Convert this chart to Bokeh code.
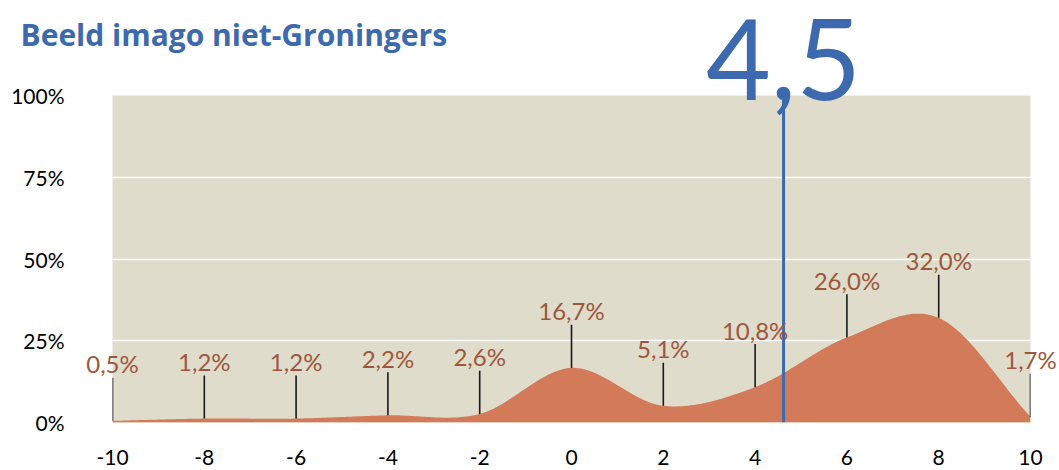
import numpy as np
from bokeh.plotting import figure
from bokeh.models import ColumnDataSource, FixedTicker
from bokeh.core.properties import value
from bokeh.embed import file_html
from bokeh.resources import INLINE

# ---- data ----
title_text = "Beeld imago niet-Groningers"
scores = [-10, -8, -6, -4, -2, 0, 2, 4, 6, 8, 10]
shares = [0.5, 1.2, 1.2, 2.2, 2.6, 16.7, 5.1, 10.8, 26.0, 32.0, 1.7]
share_labels = ["0,5%", "1,2%", "1,2%", "2,2%", "2,6%", "16,7%", "5,1%", "10,8%", "26,0%", "32,0%", "1,7%"]
x_ticks = [-10, -8, -6, -4, -2, 0, 2, 4, 6, 8, 10]
x_tick_labels = ["-10", "-8", "-6", "-4", "-2", "0", "2", "4", "6", "8", "10"]
y_ticks = [0, 25, 50, 75, 100]
y_tick_labels = ["0%", "25%", "50%", "75%", "100%"]
avg_label = "4,5"
avg_x = 4.62

# ---- styles ----
BG = "#DFDCCB"
FILL = "#D37B59"
LABEL_C = "#9C573D"
BLUE = "#3D69AE"
FONT = "Lato"
STEM = 13.2  # stem length in % units


def smooth(xs, ys, n=40):
    """Cubic Hermite (Catmull-Rom) curve through the given points, for drawing."""
    xs = np.asarray(xs, float)
    ys = np.asarray(ys, float)
    m = np.zeros_like(ys)
    m[1:-1] = (ys[2:] - ys[:-2]) / (xs[2:] - xs[:-2])
    m[0] = (ys[1] - ys[0]) / (xs[1] - xs[0])
    m[-1] = (ys[-1] - ys[-2]) / (xs[-1] - xs[-2])
    ox, oy = [], []
    for i in range(len(xs) - 1):
        h = xs[i + 1] - xs[i]
        t = np.linspace(0, 1, n, endpoint=(i == len(xs) - 2))
        h00 = 2 * t**3 - 3 * t**2 + 1
        h10 = t**3 - 2 * t**2 + t
        h01 = -2 * t**3 + 3 * t**2
        h11 = t**3 - t**2
        ox.extend(xs[i] + t * h)
        oy.extend(h00 * ys[i] + h10 * h * m[i] + h01 * ys[i + 1] + h11 * h * m[i + 1])
    return np.array(ox), np.clip(np.array(oy), 0, None)


p = figure(width=1059, height=470, x_range=(-10, 10), y_range=(0, 100),
           output_backend="svg", toolbar_location=None,
           min_border_left=112, min_border_right=29, min_border_top=95, min_border_bottom=48,
           background_fill_color=BG, border_fill_color="white", outline_line_color=None)

# grid
p.xgrid.grid_line_color = None
p.ygrid.ticker = FixedTicker(ticks=y_ticks)
p.ygrid.grid_line_color = "white"
p.ygrid.grid_line_width = 1.5

# axes
for ax in (p.xaxis[0], p.yaxis[0]):
    ax.axis_line_color = None
    ax.major_tick_line_color = None
    ax.minor_tick_line_color = None
    ax.major_tick_out = 0
    ax.major_tick_in = 0
    ax.major_label_text_font = FONT
    ax.major_label_text_color = "black"
p.xaxis.ticker = FixedTicker(ticks=x_ticks)
p.xaxis.major_label_overrides = {t: l for t, l in zip(x_ticks, x_tick_labels)}
p.xaxis.major_label_text_font_size = "21px"
p.xaxis.major_label_standoff = 27
p.yaxis.ticker = FixedTicker(ticks=y_ticks)
p.yaxis.major_label_overrides = {t: l for t, l in zip(y_ticks, y_tick_labels)}
p.yaxis.major_label_text_font_size = "21px"
p.yaxis.major_label_standoff = 48

# area
cx, cy = smooth(scores, shares)
p.varea(x=cx, y1=0, y2=cy, fill_color=FILL)

# stems
src = ColumnDataSource(dict(x=scores, y=shares, top=[s + STEM for s in shares], lab=share_labels))
p.segment(x0="x", y0="y", x1="x", y1="top", source=src, line_color="#1a1a1a", line_width=1.6)

# average line
p.segment(x0=[avg_x], y0=[0], x1=[avg_x], y1=[100], line_color=BLUE, line_width=3)

# value labels (overlay level so they are not clipped to the frame)
p.text(x="x", y="top", text="lab", source=src, text_align="center",
       text_baseline="middle", y_offset=-14, text_font=value(FONT),
       text_font_size="24px", text_color=LABEL_C, level="overlay")

# big average number
p.text(x=[avg_x], y=[100], text=[avg_label], text_align="center", text_baseline="middle",
       y_offset=-36, text_font=value(FONT), text_font_size="112px", text_color=BLUE, level="overlay")

# title
p.text(x=[-10], y=[100], text=[title_text], text_align="left", text_baseline="middle",
       x_offset=-92, y_offset=-61, text_font=value("Open Sans"), text_font_style="bold",
       text_font_size="30px", text_color=BLUE, level="overlay")

open("out.html", "w").write(file_html(p, INLINE))
